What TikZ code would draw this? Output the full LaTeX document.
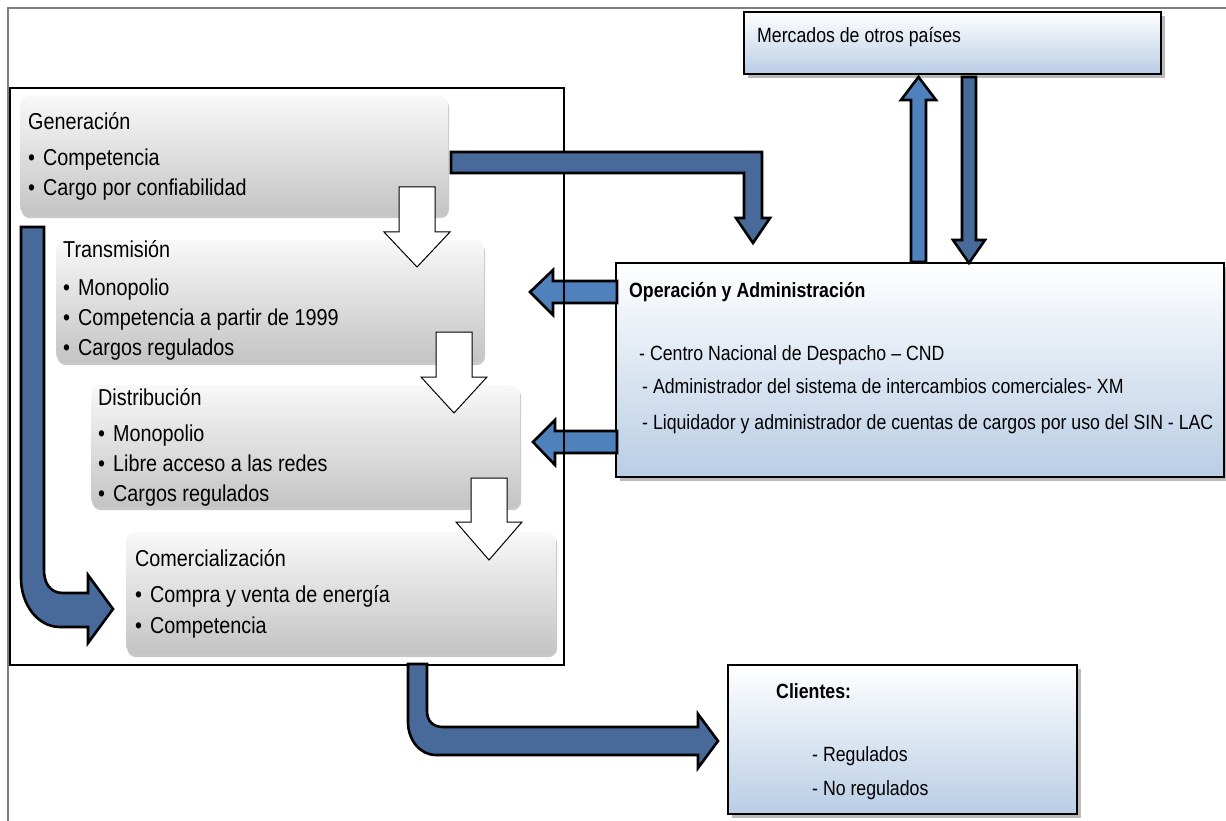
\documentclass[tikz,border=0pt]{standalone}
\usepackage{fontspec}
\setmainfont{Liberation Sans}[FakeStretch=0.86]
\usetikzlibrary{shadows}

\definecolor{arrowdark}{HTML}{476A9B}
\definecolor{arrowlight}{HTML}{4F81BD}
\definecolor{boxblue}{HTML}{B9CDE5}
\definecolor{graytop}{HTML}{F8F8F8}
\definecolor{graybot}{HTML}{C4C4C4}
\definecolor{framegray}{HTML}{7F7F7F}

\tikzset{
  stagebox/.style={rounded corners=9pt, top color=graytop, bottom color=graybot,
    draw=none, anchor=north west, inner sep=0pt,
    drop shadow={shadow xshift=1pt, shadow yshift=-3pt, opacity=0.3, fill=black!70}},
  bluebox/.style={draw=black, line width=2pt, top color=white, bottom color=boxblue,
    anchor=north west, inner sep=0pt,
    drop shadow={shadow xshift=4pt, shadow yshift=-4pt, opacity=0.45, fill=black!60}},
  stagetext/.style={anchor=base west, inner sep=0pt, font=\fontsize{23}{27}\selectfont},
  infotext/.style={anchor=base west, inner sep=0pt, font=\fontsize{20.6}{24}\selectfont},
  flowarrow/.style={draw=black, line width=2.6pt, line join=miter},
  hollowarrow/.style={draw=black, fill=white, line width=1pt},
}
\newcommand{\bul}{\makebox[15pt][l]{•}}

\begin{document}
\begin{tikzpicture}[x=1pt, y=-1pt]
\useasboundingbox (0,0) rectangle (1226,821);

% outer frame (open to the right and bottom)
\draw[framegray, line width=1.5pt] (1226,8) -- (8,8) -- (8,821);

% chain of market activities
\node[stagebox, minimum width=428pt, minimum height=119pt] (gen)   at (20,96)  {};
\node[stagebox, minimum width=428pt, minimum height=122pt] (trans) at (56,240) {};
\node[stagebox, minimum width=429pt, minimum height=122pt] (dist)  at (91,385) {};
\node[stagebox, minimum width=430pt, minimum height=122pt] (com)   at (126,532) {};

\node[stagetext] (gen-t) at (28,130) {Generación};
\node[stagetext] (gen-1) at (28,166) {\bul Competencia};
\node[stagetext] (gen-2) at (28,196) {\bul Cargo por confiabilidad};

\node[stagetext] (trans-t) at (63,258) {Transmisión};
\node[stagetext] (trans-1) at (63,295) {\bul Monopolio};
\node[stagetext] (trans-2) at (63,325) {\bul Competencia a partir de 1999};
\node[stagetext] (trans-3) at (63,355) {\bul Cargos regulados};

\node[stagetext] (dist-t) at (98,405) {Distribución};
\node[stagetext] (dist-1) at (98,441) {\bul Monopolio};
\node[stagetext] (dist-2) at (98,471) {\bul Libre acceso a las redes};
\node[stagetext] (dist-3) at (98,501) {\bul Cargos regulados};

\node[stagetext] (com-t) at (135,566) {Comercialización};
\node[stagetext] (com-1) at (135,602) {\bul Compra y venta de energía};
\node[stagetext] (com-2) at (135,633) {\bul Competencia};

% hollow arrows between the stages
\draw[hollowarrow] (399,187) -- (435,187) -- (435,232) -- (450,232) -- (417,267)
  -- (384,232) -- (399,232) -- cycle;
\draw[hollowarrow] (436,332) -- (472,332) -- (472,377) -- (487,377) -- (454,413)
  -- (421,377) -- (436,377) -- cycle;
\draw[hollowarrow] (471,478) -- (507,478) -- (507,522) -- (522,522) -- (489,560)
  -- (456,522) -- (471,522) -- cycle;

% right-hand boxes
\node[bluebox, minimum width=417pt, minimum height=62pt]  (merc) at (743,11)  {};
\node[bluebox, minimum width=608pt, minimum height=214pt] (ops)  at (615,262) {};
\node[bluebox, minimum width=349pt, minimum height=149pt] (cli)  at (727,664) {};

\node[infotext] (merc-t) at (757,43) {Mercados de otros países};
\node[infotext, font=\fontsize{20.6}{24}\selectfont\bfseries] (ops-t) at (629,297) {Operación y Administración};
\node[infotext] (ops-1) at (639,360) {- Centro Nacional de Despacho – CND};
\node[infotext] (ops-2) at (642,393) {- Administrador del sistema de intercambios comerciales- XM};
\node[infotext] (ops-3) at (642,429) {- Liquidador y administrador de cuentas de cargos por uso del SIN - LAC};

\node[infotext, font=\fontsize{20.6}{24}\selectfont\bfseries] (cli-t) at (776,698) {Clientes:};
\node[infotext] (cli-1) at (812,761) {- Regulados};
\node[infotext] (cli-2) at (812,795) {- No regulados};

% arrows from operation towards the chain
\draw[flowarrow, fill=arrowlight] (617,281) -- (553,281) -- (553,270) -- (530,292)
  -- (553,315) -- (553,303) -- (617,303) -- cycle;
\draw[flowarrow, fill=arrowlight] (617,431) -- (555,431) -- (555,420) -- (533,442)
  -- (555,465) -- (555,453) -- (617,453) -- cycle;

% frame around the activity chain
\draw[black, line width=1.4pt] (10,88) rectangle (564,665);

% generation to operation
\draw[flowarrow, fill=arrowdark] (451,152) -- (762,152) -- (762,218) -- (770,218)
  -- (753,243) -- (736,218) -- (744,218) -- (744,173) -- (451,173) -- cycle;

% exchanges with other markets
\draw[flowarrow, fill=arrowlight] (911,262) -- (911,100) -- (901,100) -- (918.5,77)
  -- (936,100) -- (926,100) -- (926,262) -- cycle;
\draw[flowarrow, fill=arrowdark] (962,77) -- (976,77) -- (976,240) -- (985,240)
  -- (969,263) -- (953,240) -- (962,240) -- cycle;

% generation directly to commercialisation
\draw[flowarrow, fill=arrowdark] (21,227) -- (44,227) -- (44,570)
  .. controls (44,583) and (50,593) .. (63,593) -- (88,593) -- (88,575)
  -- (113,609) -- (88,643) -- (88,627) -- (60,627)
  .. controls (38,627) and (21,605) .. (21,578) -- cycle;

% commercialisation to clients
\draw[flowarrow, fill=arrowdark] (408,664) -- (427,664) -- (427,711)
  .. controls (427,721) and (433,727) .. (443,727) -- (698,727) -- (698,714)
  -- (718,741) -- (698,768) -- (698,755) -- (436,755)
  .. controls (420,755) and (408,740) .. (408,722) -- cycle;

\end{tikzpicture}
\end{document}
